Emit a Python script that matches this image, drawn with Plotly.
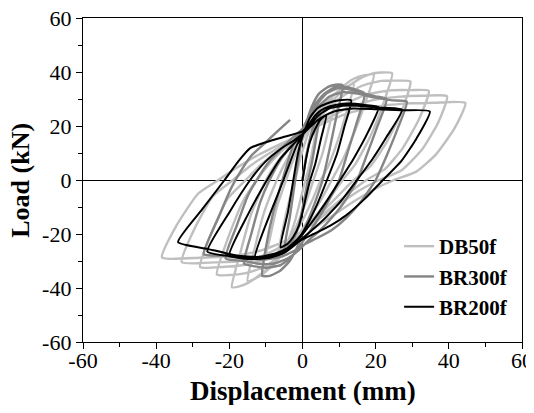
import plotly.graph_objects as go

# ---------------- data ----------------
series_names = ["DB50f", "BR300f", "BR200f"]

db50f_x = [0, 1, 2.5, 4,
           3, 1.8, 0.8, -0.5, -2, -3.5, -5, -7,
           -5.5, -3.5, -2, -0.8, 0.5, 2, 4, 6.5, 9,
           7.5, 5.5, 3, 1, -1, -3, -5.5, -8, -11,
           -9, -7, -4.5, -2.5, -0.5, 1.5, 4, 7, 10.5, 14,
           12, 9.5, 7, 5, 2.5, 0, -2.5, -5.5, -8.5, -11.5, -15,
           -13, -10.5, -7, -4.5, -2, 0.5, 3.5, 7, 10.5, 14, 17, 19.5,
           17, 14, 11, 8, 5, 2, -1, -4.5, -8, -11.5, -15, -17.5, -19.3,
           -17, -14, -10, -7, -3.5, 0, 3.5, 7, 11, 15, 18.5, 21.5, 24.5,
           22, 18.5, 14.5, 11, 7.5, 4, 0.5, -3, -7, -11, -15.5, -20, -23.4,
           -20.5, -16.5, -12.5, -9, -5, -1, 3, 7, 11.5, 16.5, 21.5, 26, 29.5,
           27, 23, 18.5, 14, 10, 6, 2, -2, -6, -10.5, -16, -22, -28,
           -25, -20.5, -15.5, -11.5, -7, -2.5, 2, 6.5, 12, 18, 24, 29.5, 34.5,
           32, 27.5, 22.5, 17.5, 13, 8.5, 4, -0.5, -5, -10, -16, -24, -33,
           -29.5, -24.5, -19, -14.5, -9.5, -4.5, 0.5, 6, 12, 19, 26, 33, 39.5,
           37, 32.5, 27, 21, 16, 11, 6, 1, -4.5, -11, -18, -28, -38.4,
           -34.5, -28.5, -23, -18, -12.5, -6.5, -1, 5, 12, 20, 28, 36, 44.5,
           41.5, 36.5, 31, 25, 19.5, 14, 8.5, 3]
db50f_y = [0, 9, 17, 22,
           13, 5, 0, -7, -15, -21, -26, -30,
           -19, -7, 0, 7, 13, 19, 24.5, 28.5, 30,
           21, 10, 0, -8, -15, -21, -27, -31.5, -34,
           -22, -10, 0, 7.5, 13.5, 19, 25, 30, 33.5, 35.5,
           25, 14, 5, 0, -8, -15, -21, -27.5, -32, -35.5, -37.5,
           -25, -12, 0, 7, 12.5, 17.5, 23, 29, 34, 37.5, 38.8, 39,
           28, 17, 7.5, 0, -7.5, -14, -20, -26, -31, -35, -38.2, -39.5, -39.7,
           -27, -12.5, 0, 6.5, 12, 16.5, 21.5, 27.5, 33, 37, 39.2, 39.8, 39.5,
           28, 16, 6, 0, -6.5, -12.5, -18.5, -24, -29, -32.5, -34.5, -35.2, -35,
           -22, -8.5, 0, 6, 11.5, 15.5, 20.5, 26.5, 31.5, 35, 36.7, 36.8, 36.5,
           25, 14, 5, 0, -5.5, -11, -16.5, -21.5, -26, -29.5, -31.5, -32.2, -32.2,
           -20, -7, 0, 5.5, 10.5, 14.5, 18.5, 23.5, 28.5, 31.8, 33.2, 33.3, 33,
           23, 12, 4, 0, -4.5, -9.5, -14.5, -19.5, -24, -27.5, -29.8, -30.5, -30.4,
           -18, -6, 0, 5, 9.5, 13.5, 17.5, 22, 26.5, 29.5, 30.8, 31.2, 31,
           21, 11, 3.5, 0, -3.5, -8, -13, -18, -22.5, -26, -28, -28.8, -28.7,
           -17, -5, 0, 4.5, 9, 13, 16.5, 20.5, 24.5, 27.2, 28.3, 28.6, 28.5,
           19, 9.5, 3, 0, -3.5, -8, -13, -18]

br300f_x = [0, 1.5, 3, 5,
            3.8, 2.5, 1.5, 0.5, -0.5, -1.5, -3, -5,
            -3.5, -2, -1, 0, 1, 2.5, 4.5, 7, 9, 11,
            9.5, 7.5, 5.5, 3.5, 1.5, 0, -1.5, -3.5, -6, -9, -11,
            -10, -8, -5.5, -3.5, -2, 0, 1.5, 3.5, 6, 9, 12, 14.5, 17,
            15, 12.5, 10, 7, 4, 1.5, -0.5, -3, -6, -10, -13, -16,
            -14, -11.5, -9, -6, -3, 0, 2, 4, 6.5, 9.5, 13, 17, 20, 23,
            20.5, 17.5, 15, 11.5, 8, 4.5, 1.5, -1, -4, -8, -12, -16, -21,
            -18, -15, -12.5, -9, -5.5, -2, 0, 2, 4.5, 7.5, 11, 15, 20, 24.5, 28.5,
            26, 23, 20, 16, 12, 8, 4, 1, -2, -6, -11, -16, -22, -27,
            -23, -19.5, -17, -14, -10, -6.5, -3.4]
br300f_y = [0, 12, 20, 26,
            16, 6, 0, -7, -14, -19, -23, -26,
            -14, 0, 9, 16, 21, 27, 32, 34.5, 35.3, 35,
            25, 12, 0, -8, -15, -20, -25, -30, -33.5, -35.5, -35.5,
            -25, -12, 0, 9, 15, 19, 23, 28, 32, 34.5, 34.5, 33.5, 32,
            22, 11, 0, -8, -15, -20, -24, -28.5, -31.5, -32.5, -32, -31,
            -20, -8, 0, 7.5, 13, 18.5, 23, 28, 32, 34, 33.5, 32, 31, 30,
            20, 9, 0, -8, -14, -19, -22.5, -26, -29, -31, -31, -30, -29,
            -17, -6, 0, 7, 12, 16.5, 19, 23, 27.5, 31, 32.5, 32, 30.5, 29.5, 29,
            19, 9, 0, -8, -14, -18.5, -21.5, -23.5, -26, -28.5, -29.5, -29, -28, -27.5,
            -14, -3, 3, 9, 14, 18.5, 22.3]

br200f_x = [0, 1, 2, 3.5, 5, 6.5,
            5, 3.5, 2.1, 1, 0, -1, -2.5, -4, -6,
            -4, -2.5, -1.5, -0.5, 0.5, 2, 4, 7, 10, 13.3,
            11.5, 9.5, 6.7, 4, 1.5, -0.5, -3, -6, -9, -13,
            -9, -5.2, -3, -1.5, 0, 1.5, 3.5, 6, 9, 13, 17, 20.8,
            18, 14, 10.3, 7, 4, 1.5, -0.5, -3, -6, -10, -14, -20,
            -15, -9.7, -6, -3, -0.5, 1.5, 4, 7, 11, 15, 21, 27.2,
            23, 19, 14.9, 11, 7, 3.5, 0.5, -2, -5, -9, -14, -20, -26,
            -20, -14.3, -10, -6, -2.5, 0, 2, 4.5, 7, 10, 14, 20, 27, 34.8,
            31, 27, 22, 17, 12, 7.5, 3, 0, -3, -7, -12, -18, -26, -34,
            -27.5, -21.3, -17.5, -14.3, -10, -5, 0, 1.5]
br200f_y = [0, 8, 14, 19, 22.5, 24,
            15, 6, 0, -6, -12, -17, -21, -23.5, -25,
            -12, 0, 8, 14, 18, 23, 26.5, 28.5, 29.5, 29.5,
            20, 10, 0, -9, -16, -20.5, -24, -27, -28.5, -29,
            -13, 0, 8, 13, 16.5, 20, 24, 26.5, 27.8, 28.3, 27.8, 27,
            18, 8, 0, -7, -13, -17.5, -21, -24.5, -27.5, -29, -29, -28,
            -13, 0, 8, 12.5, 16, 19, 23.5, 26.3, 27.5, 27.5, 26.8, 26,
            16, 7.5, 0, -7, -13, -17.5, -21, -24, -27, -28.8, -29.3, -28.2, -26.5,
            -12, 0, 7, 11.5, 14.5, 17, 19.5, 22.5, 24.5, 25.8, 26.5, 26.2, 25.8, 25.4,
            15, 7, 0, -7, -13, -17, -20, -22, -24.5, -27, -28.5, -28, -25.5, -23,
            -11, 0, 7, 11.8, 14, 16, 18, 20]

x_ticks = [-60, -40, -20, 0, 20, 40, 60]
y_ticks = [-60, -40, -20, 0, 20, 40, 60]
x_ticktext = ["-60", "-40", "-20", "0", "20", "40", "60"]
y_ticktext = ["-60", "-40", "-20", "0", "20", "40", "60"]
x_title = "Displacement (mm)"
y_title = "Load (kN)"

# ---------------- figure ----------------
# (the page adds an 8px body margin, so the figure margins are shifted by 8px)
serif = "Liberation Serif, Times New Roman, serif"
fig = go.Figure()
styles = {"DB50f": ("#bfbfbf", 2.4), "BR300f": ("#858585", 2.4), "BR200f": ("#000000", 2.0)}
data = {"DB50f": (db50f_x, db50f_y), "BR300f": (br300f_x, br300f_y), "BR200f": (br200f_x, br200f_y)}
for name in series_names:
    xs, ys = data[name]
    col, w = styles[name]
    fig.add_trace(go.Scatter(x=xs, y=ys, mode="lines", name="<b>" + name + "</b>",
                             line=dict(color=col, width=w, shape="spline", smoothing=0.5)))

axis_common = dict(range=[-60, 60], showgrid=False, zeroline=True, zerolinecolor="black",
                   zerolinewidth=1.3, showline=True, linecolor="black", linewidth=1.3,
                   mirror=True, ticks="outside", ticklen=6, tickwidth=1.3, tickcolor="black",
                   automargin=False, ticklabeloverflow="allow",
                   tickfont=dict(family=serif, size=22, color="black"),
                   minor=dict(ticks="outside", ticklen=4, tickwidth=1.3, tickcolor="black", dtick=10))
fig.update_xaxes(**axis_common, tickvals=x_ticks, ticktext=x_ticktext, ticklabelstandoff=-8)
fig.update_yaxes(**axis_common, tickvals=y_ticks, ticktext=y_ticktext, ticklabelstandoff=0)

fig.add_annotation(text="<b>" + x_title + "</b>", xref="paper", yref="paper",
                   x=0.5, y=-0.152, xanchor="center", yanchor="middle", showarrow=False,
                   font=dict(family=serif, size=27, color="black"))
fig.add_annotation(text="<b>" + y_title + "</b>", xref="paper", yref="paper",
                   x=-0.144, y=0.5, xanchor="center", yanchor="middle", showarrow=False,
                   textangle=-90, font=dict(family=serif, size=26, color="black"))

fig.update_layout(width=526, height=397, margin=dict(l=75, r=12, t=10, b=63),
                  plot_bgcolor="white", paper_bgcolor="white",
                  legend=dict(x=0.72, y=0.358, xanchor="left", yanchor="top",
                              bgcolor="rgba(0,0,0,0)", font=dict(family=serif, size=21, color="black"),
                              tracegroupgap=0, itemwidth=30))
fig.write_html("out.html")
